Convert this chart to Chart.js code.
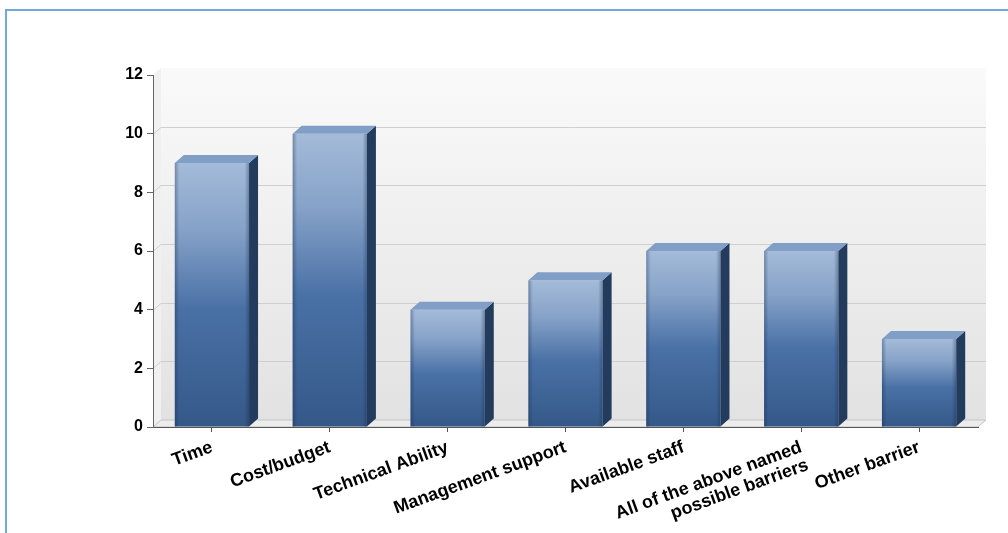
<!DOCTYPE html>
<html>
<head>
<meta charset="utf-8">
<script src="https://cdn.jsdelivr.net/npm/chart.js@4.4.1/dist/chart.umd.min.js"></script>
<style>
  html, body { margin: 0; padding: 0; background: #fff; overflow: hidden; }
  #frame {
    position: absolute; left: 5px; top: 9px; width: 1100px; height: 600px;
    border-left: 2px solid #72a8e2; border-top: 2px solid #72a8e2;
  }
  #barriers { position: absolute; left: 0; top: 0; }
</style>
</head>
<body>
<div id="frame"></div>
<canvas id="barriers" width="1008" height="533"></canvas>
<script>
const categories = [
  "Time",
  "Cost/budget",
  "Technical Ability",
  "Management support",
  "Available staff",
  ["All of the above named", "possible barriers"],
  "Other barrier",
];
const responses = [9, 10, 4, 5, 6, 6, 3];
const yMin = 0;
const yMax = 12;
const yStep = 2;

// depth offsets for the fake 3D look
const WALL_DX = 8, WALL_DY = -7;
const BAR_DX = 9, BAR_DY = -8;

const tickFont = { family: "'Liberation Sans', Arial, sans-serif", size: 16, weight: "bold" };
const catFont = { family: "'Liberation Sans', Arial, sans-serif", size: 18, weight: "bold", lineHeight: 1.05 };

function frontGradient(context) {
  const chart = context.chart;
  if (!chart.chartArea) return "#4a70a5";
  const y = chart.scales.y;
  const top = y.getPixelForValue(context.raw);
  const base = y.getPixelForValue(0);
  const g = chart.ctx.createLinearGradient(0, top, 0, base);
  g.addColorStop(0, "#a4bbd9");
  g.addColorStop(0.25, "#86a2c8");
  g.addColorStop(0.55, "#4a71a6");
  g.addColorStop(1, "#345888");
  return g;
}

const box3d = {
  id: "box3d",
  beforeDraw(chart) {
    const { ctx, chartArea: a } = chart;
    const y = chart.scales.y;
    ctx.save();

    // back wall
    const wall = ctx.createLinearGradient(0, a.top + WALL_DY, 0, a.bottom + WALL_DY);
    wall.addColorStop(0, "#fafafa");
    wall.addColorStop(1, "#e2e2e2");
    ctx.fillStyle = wall;
    ctx.fillRect(a.left + WALL_DX, a.top + WALL_DY, a.right - a.left, a.bottom - a.top);

    // left wall
    ctx.beginPath();
    ctx.moveTo(a.left, a.top);
    ctx.lineTo(a.left + WALL_DX, a.top + WALL_DY);
    ctx.lineTo(a.left + WALL_DX, a.bottom + WALL_DY);
    ctx.lineTo(a.left, a.bottom);
    ctx.closePath();
    ctx.fillStyle = "#f0f0f0";
    ctx.fill();

    // floor
    ctx.beginPath();
    ctx.moveTo(a.left, a.bottom);
    ctx.lineTo(a.left + WALL_DX, a.bottom + WALL_DY);
    ctx.lineTo(a.right + WALL_DX, a.bottom + WALL_DY);
    ctx.lineTo(a.right, a.bottom);
    ctx.closePath();
    ctx.fillStyle = "#ececec";
    ctx.fill();
    ctx.strokeStyle = "#c4c4c4";
    ctx.lineWidth = 1;
    ctx.stroke();

    // grid lines on the back wall (none along the top edge)
    ctx.strokeStyle = "#cfcfcf";
    for (let v = yMin + yStep; v < yMax; v += yStep) {
      const py = Math.round(y.getPixelForValue(v)) + 0.5;
      ctx.beginPath();
      ctx.moveTo(a.left, py);
      ctx.lineTo(a.left + WALL_DX, py + WALL_DY);
      ctx.lineTo(a.right + WALL_DX, py + WALL_DY);
      ctx.stroke();
    }
    ctx.restore();
  },
  afterDatasetsDraw(chart) {
    const { ctx } = chart;
    const meta = chart.getDatasetMeta(0);
    ctx.save();
    meta.data.forEach((bar) => {
      const { x, y, width, base } = bar.getProps(["x", "y", "width", "base"], true);
      const l = x - width / 2, r = x + width / 2;

      // soft shading at the front face edges
      const edge = ctx.createLinearGradient(l, 0, r, 0);
      edge.addColorStop(0, "rgba(20,40,70,0.35)");
      edge.addColorStop(0.06, "rgba(20,40,70,0)");
      edge.addColorStop(0.94, "rgba(20,40,70,0)");
      edge.addColorStop(1, "rgba(20,40,70,0.35)");
      ctx.fillStyle = edge;
      ctx.fillRect(l, y, width, base - y);

      // side face
      ctx.beginPath();
      ctx.moveTo(r, y);
      ctx.lineTo(r + BAR_DX, y + BAR_DY);
      ctx.lineTo(r + BAR_DX, base + BAR_DY);
      ctx.lineTo(r, base);
      ctx.closePath();
      ctx.fillStyle = "#233c5e";
      ctx.fill();

      // top face
      ctx.beginPath();
      ctx.moveTo(l, y);
      ctx.lineTo(l + BAR_DX, y + BAR_DY);
      ctx.lineTo(r + BAR_DX, y + BAR_DY);
      ctx.lineTo(r, y);
      ctx.closePath();
      ctx.fillStyle = "#809ec6";
      ctx.fill();
    });
    ctx.restore();
  },
};

new Chart(document.getElementById("barriers"), {
  type: "bar",
  data: {
    labels: categories,
    datasets: [{
      data: responses,
      backgroundColor: frontGradient,
      borderWidth: 0,
      categoryPercentage: 1,
      barPercentage: 0.63,
    }],
  },
  options: {
    responsive: false,
    animation: false,
    layout: { padding: { top: 75, right: 30, left: 0, bottom: 0 } },
    plugins: { legend: { display: false }, tooltip: { enabled: false } },
    scales: {
      x: {
        afterFit: (s) => { s.height = 106; },
        border: { display: true, color: "#555" },
        grid: { offset: false, drawOnChartArea: false, tickLength: 5, color: "#555" },
        ticks: {
          minRotation: 20, maxRotation: 20, autoSkip: false,
          color: "#000", font: catFont, padding: 6,
        },
      },
      y: {
        min: yMin, max: yMax,
        afterFit: (s) => { s.width = 153; },
        border: { display: true, color: "#666" },
        grid: { drawOnChartArea: false, tickLength: 6, color: "#666" },
        ticks: { stepSize: yStep, color: "#000", font: tickFont, padding: 4 },
      },
    },
  },
  plugins: [box3d],
});
</script>
</body>
</html>
